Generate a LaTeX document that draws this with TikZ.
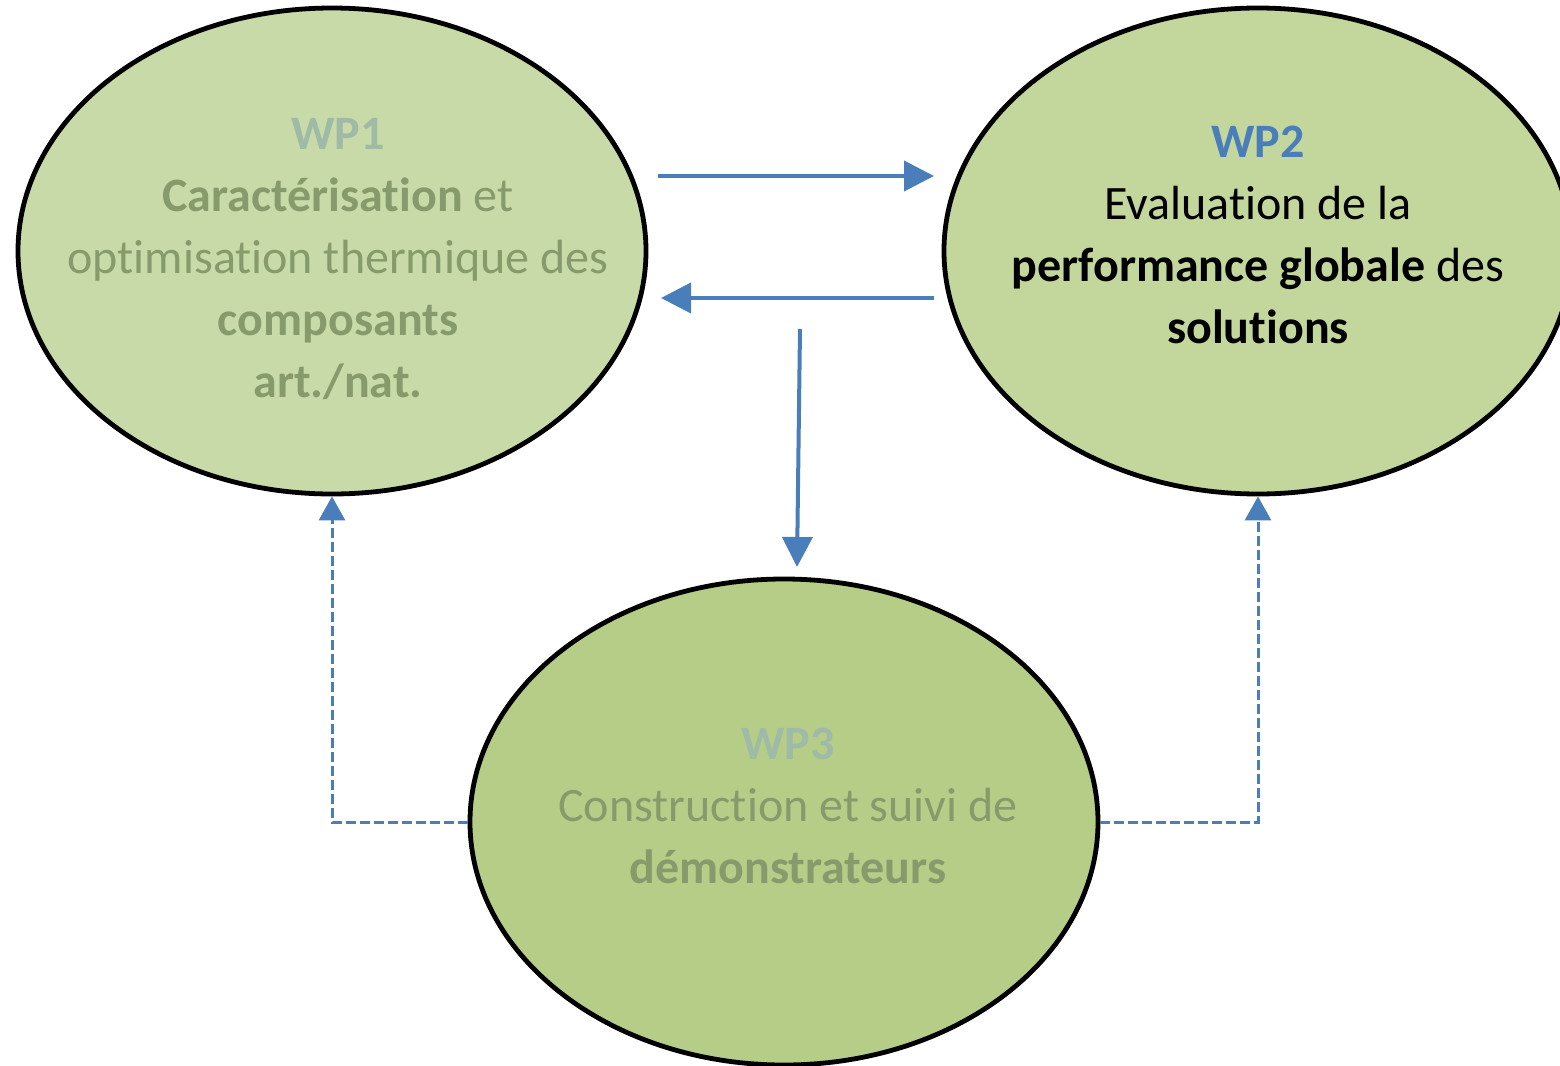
\documentclass[tikz,border=0pt]{standalone}
\usepackage{fontspec}
\setmainfont{Carlito}[Ligatures=NoCommon]
\usetikzlibrary{arrows.meta,shapes.geometric}
\definecolor{fillA}{HTML}{C7DAA7}
\definecolor{fillB}{HTML}{C3D69C}
\definecolor{fillC}{HTML}{B6CD88}
\definecolor{fadeTitle}{HTML}{9FBBA7}
\definecolor{fadeText}{HTML}{879A6B}
\definecolor{wpblue}{HTML}{4A7EBB}
\tikzset{
  wpell/.style={ellipse, draw=black, line width=2.4pt, minimum width=314pt, minimum height=243pt, inner sep=0pt},
  wptext/.style={align=center, font=\fontsize{24}{31}\selectfont, inner sep=0pt},
  flow/.style={draw=wpblue, line width=2pt, -{Triangle[length=15pt,width=15pt]}},
  back/.style={draw=wpblue, line width=1.5pt, dash pattern=on 5pt off 2pt, -{Triangle[length=12pt,width=13pt]}}
}
\begin{document}
\begin{tikzpicture}[x=0.5pt,y=-0.5pt]
\useasboundingbox (0,0) rectangle (1560,1066);
\node[wpell, fill=fillA] (wp1) at (332,251) {};
\node[wpell, fill=fillB] (wp2) at (1258,251) {};
\node[wpell, fill=fillC] (wp3) at (784,822) {};
\node[wptext, text=fadeText, anchor=center] (t1) at (338,259) {\textbf{\textcolor{fadeTitle}{WP1}}\\\textbf{Caractérisation} et\\optimisation thermique des\\\textbf{composants}\\\textbf{art./nat.}};
\node[wptext, text=black, anchor=center] (t2) at (1258,235) {\textbf{\textcolor{wpblue}{WP2}}\\Evaluation de la\\\textbf{performance globale} des\\\textbf{solutions}};
\node[wptext, text=fadeText, anchor=center] (t3) at (788,806) {\textbf{\textcolor{fadeTitle}{WP3}}\\Construction et suivi de\\\textbf{démonstrateurs}};
\coordinate (a1s) at (658,176);
\coordinate (a1e) at (934,176);
\coordinate (a2s) at (934,298);
\coordinate (a2e) at (661,298);
\coordinate (a3s) at (800,329);
\coordinate (a3e) at (797,567);
\draw[flow] (a1s) -- (a1e);
\draw[flow] (a2s) -- (a2e);
\draw[flow] (a3s) -- (a3e);
\draw[back] (wp3.west) -| (wp1.south);
\draw[back] (wp3.east) -| (wp2.south);
\end{tikzpicture}
\end{document}
